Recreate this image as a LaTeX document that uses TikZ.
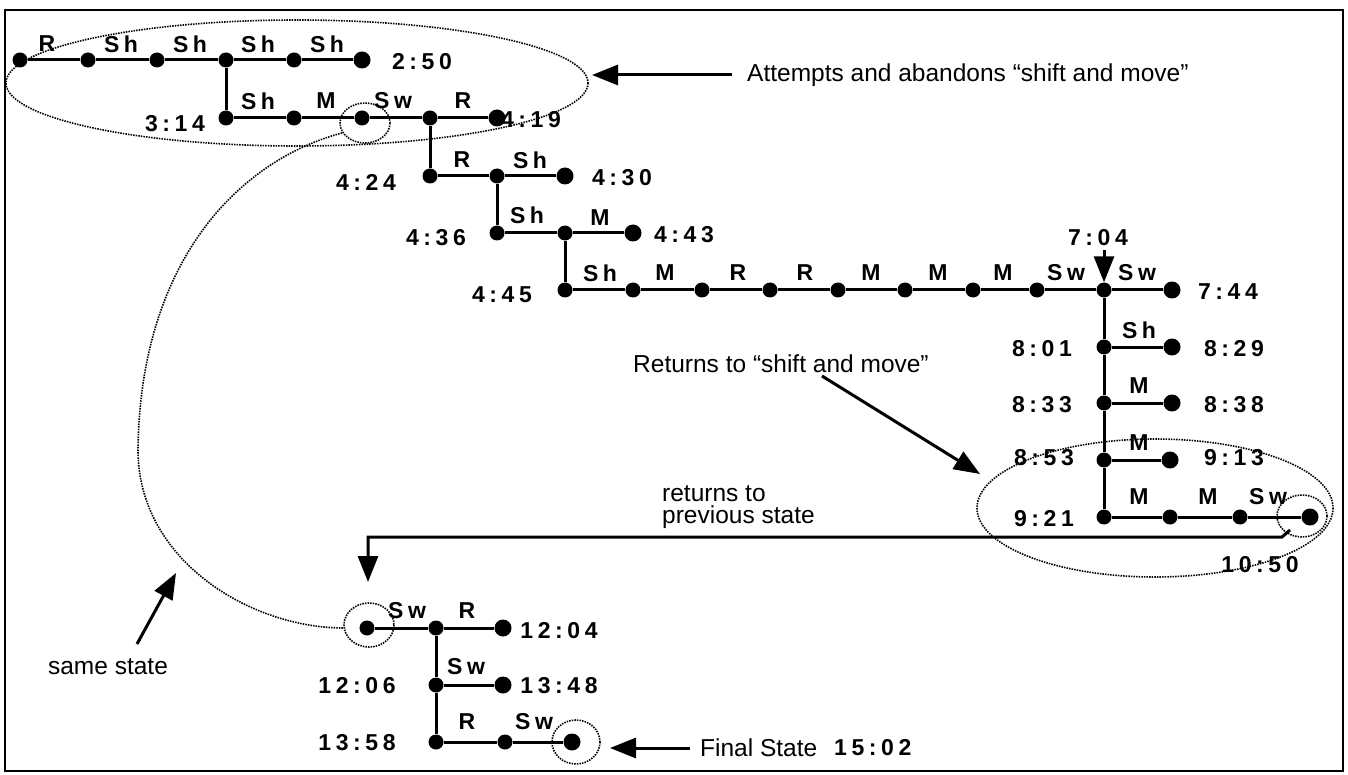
\documentclass[tikz,border=0pt]{standalone}
\usepackage{fontspec}
\setmainfont{Liberation Sans}
\newfontfamily\labfont[LetterSpace=20]{Liberation Sans}
\usetikzlibrary{arrows.meta}
\begin{document}
\begin{tikzpicture}[x=1pt,y=-1pt,
 dot/.style={circle,fill=black,inner sep=0pt,minimum size=15pt},
 enddot/.style={dot,minimum size=17pt},
 lab/.style={font=\labfont\bfseries\fontsize{23}{23}\selectfont,inner sep=0pt},
 note/.style={font=\fontsize{24.5}{26}\selectfont,inner sep=0pt},
 edge/.style={line width=3pt},
 ring/.style={dash pattern=on 1.5pt off 1.1pt,line width=1.6pt},
 bigarrow/.style={line width=3pt,-{Triangle[length=26pt,width=20pt]}}
]
\useasboundingbox (0,0) rectangle (1348,775);
\draw[line width=2.4pt] (5,10) rectangle (1343,771);

% row 1
\node[dot] (a1) at (20,60) {};
\node[dot] (a2) at (88,60) {};
\node[dot] (a3) at (157,60) {};
\node[dot] (a4) at (226,60) {};
\node[dot] (a5) at (294,60) {};
\node[enddot] (a6) at (362,60) {};
\draw[edge] (a1) -- (a2) -- (a3) -- (a4) -- (a5) -- (a6);
\node[lab] (la1) at (47,44) {R};
\node[lab] (la2) at (121,44) {Sh};
\node[lab] (la3) at (190,44) {Sh};
\node[lab] (la4) at (258,44) {Sh};
\node[lab] (la5) at (327,44) {Sh};
\node[lab] (t250) at (422,62) {2:50};

% row 2
\node[dot] (b1) at (226,118) {};
\node[dot] (b2) at (294,118) {};
\node[dot] (b3) at (362,118) {};
\node[dot] (b4) at (430,118) {};
\node[enddot] (b5) at (497,118) {};
\draw[edge] (a4) -- (b1);
\draw[edge] (b1) -- (b2) -- (b3) -- (b4) -- (b5);
\node[lab] (lb1) at (258,101) {Sh};
\node[lab] (lb2) at (326,101) {M};
\node[lab] (lb3) at (393,101) {Sw};
\node[lab] (lb4) at (463,101) {R};
\node[lab] (t314) at (175,124) {3:14};
\node[lab] (t419) at (531,120) {4:19};

% row 3
\node[dot] (c1) at (430,176) {};
\node[dot] (c2) at (497,176) {};
\node[enddot] (c3) at (565,176) {};
\draw[edge] (b4) -- (c1);
\draw[edge] (c1) -- (c2) -- (c3);
\node[lab] (lc1) at (462,160) {R};
\node[lab] (lc2) at (530,160) {Sh};
\node[lab] (t424) at (366,182) {4:24};
\node[lab] (t430) at (622,178) {4:30};

% row 4
\node[dot] (d1) at (497,233) {};
\node[dot] (d2) at (565,233) {};
\node[enddot] (d3) at (633,233) {};
\draw[edge] (c2) -- (d1);
\draw[edge] (d1) -- (d2) -- (d3);
\node[lab] (ld1) at (527,215) {Sh};
\node[lab] (ld2) at (600,218) {M};
\node[lab] (t436) at (436,238) {4:36};
\node[lab] (t443) at (684,235) {4:43};

% row 5
\node[dot] (e1) at (565,290) {};
\node[dot] (e2) at (633,290) {};
\node[dot] (e3) at (702,290) {};
\node[dot] (e4) at (770,290) {};
\node[dot] (e5) at (838,290) {};
\node[dot] (e6) at (905,290) {};
\node[dot] (e7) at (973,290) {};
\node[dot] (e8) at (1037,290) {};
\node[dot] (e9) at (1104,290) {};
\node[enddot] (e10) at (1172,290) {};
\draw[edge] (d2) -- (e1);
\draw[edge] (e1) -- (e2) -- (e3) -- (e4) -- (e5) -- (e6) -- (e7) -- (e8) -- (e9) -- (e10);
\node[lab] (le1) at (600,273) {Sh};
\node[lab] (le2) at (665,273) {M};
\node[lab] (le3) at (738,273) {R};
\node[lab] (le4) at (805,273) {R};
\node[lab] (le5) at (871,273) {M};
\node[lab] (le6) at (938,273) {M};
\node[lab] (le7) at (1003,273) {M};
\node[lab] (le8) at (1066,273) {Sw};
\node[lab] (le9) at (1137,273) {Sw};
\node[lab] (t445) at (502,295) {4:45};
\node[lab] (t744) at (1228,292) {7:44};
\node[lab] (t704) at (1098,238) {7:04};
\coordinate (a704) at (1104,250);
\draw[bigarrow] (a704) -- (e9.north);

% vertical column
\node[dot] (f1) at (1104,347) {};
\node[enddot] (f2) at (1172,347) {};
\node[dot] (g1) at (1104,403) {};
\node[enddot] (g2) at (1172,403) {};
\node[dot] (h1) at (1104,460) {};
\node[enddot] (h2) at (1170,460) {};
\node[dot] (i1) at (1104,517) {};
\node[dot] (i2) at (1170,517) {};
\node[dot] (i3) at (1240,517) {};
\node[enddot] (i4) at (1310,517) {};
\draw[edge] (e9) -- (f1) -- (g1) -- (h1) -- (i1);
\draw[edge] (f1) -- (f2);
\draw[edge] (g1) -- (g2);
\draw[edge] (h1) -- (h2);
\draw[edge] (i1) -- (i2) -- (i3) -- (i4);
\node[lab] (lf) at (1139,330) {Sh};
\node[lab] (lg) at (1139,386) {M};
\node[lab] (lh) at (1139,443) {M};
\node[lab] (li1) at (1139,497) {M};
\node[lab] (li2) at (1208,497) {M};
\node[lab] (li3) at (1268,497) {Sw};
\node[lab] (t801) at (1042,349) {8:01};
\node[lab] (t829) at (1234,349) {8:29};
\node[lab] (t833) at (1042,405) {8:33};
\node[lab] (t838) at (1234,405) {8:38};
\node[lab] (t853) at (1044,458) {8:53};
\node[lab] (t913) at (1234,458) {9:13};
\node[lab] (t921) at (1044,519) {9:21};
\node[lab] (t1050) at (1260,565) {10:50};

% bottom cluster
\node[dot] (k1) at (367,628) {};
\node[dot] (k2) at (436,628) {};
\node[enddot] (k3) at (503,628) {};
\node[dot] (l1) at (436,685) {};
\node[enddot] (l2) at (503,685) {};
\node[dot] (m1) at (436,742) {};
\node[dot] (m2) at (505,742) {};
\node[enddot] (m3) at (572,742) {};
\draw[edge] (k1) -- (k2) -- (k3);
\draw[edge] (k2) -- (l1) -- (m1);
\draw[edge] (l1) -- (l2);
\draw[edge] (m1) -- (m2) -- (m3);
\node[lab] (lk1) at (407,611) {Sw};
\node[lab] (lk2) at (467,611) {R};
\node[lab] (ll) at (466,667) {Sw};
\node[lab] (lm1) at (467,722) {R};
\node[lab] (lm2) at (534,722) {Sw};
\node[lab] (t1204) at (559,631) {12:04};
\node[lab] (t1348) at (559,686) {13:48};
\node[lab] (t1206) at (357,686) {12:06};
\node[lab] (t1358) at (357,743) {13:58};

% dotted rings
\draw[ring] (297,83) ellipse [x radius=291, y radius=63];
\draw[ring] (365,123) ellipse [x radius=25, y radius=20];
\draw[ring] (1155,508) ellipse [x radius=178, y radius=69];
\draw[ring] (1302,516) ellipse [x radius=25, y radius=21];
\draw[ring] (369,625) ellipse [x radius=25, y radius=22];
\draw[ring] (576,742) ellipse [x radius=24, y radius=22];
\coordinate (s1) at (342,133);
\coordinate (s2) at (138,450);
\coordinate (s3) at (344,628);
\draw[ring] (s1) .. controls (240,160) and (140,260) .. (s2)
            .. controls (138,560) and (250,628) .. (s3);

% annotations
\node[note,anchor=west] (n1) at (747,75) {Attempts and abandons ``shift and move''};
\coordinate (n1t) at (732,75);
\coordinate (n1h) at (592,75);
\draw[bigarrow] (n1t) -- (n1h);

\node[note,anchor=west] (n2) at (633,364) {Returns to ``shift and move''};
\coordinate (n2t) at (822,376);
\coordinate (n2h) at (980,474);
\draw[bigarrow] (n2t) -- (n2h);

\node[note,anchor=west,align=left,font=\fontsize{24.5}{22}\selectfont] (n3) at (662,507) {returns to\\previous state};
\coordinate (r0) at (1290,530);
\coordinate (r1) at (1282,537);
\coordinate (r2) at (368,582);
\draw[line width=3pt,-{Triangle[length=26pt,width=20pt]}] (r0) -- (r1) -| (r2);

\node[note] (n4) at (108,667) {same state};
\coordinate (n4t) at (137,644);
\coordinate (n4h) at (176,573);
\draw[bigarrow] (n4t) -- (n4h);

\node[note,anchor=west] (n5) at (700,748) {Final State};
\node[lab,anchor=west] (t1502) at (834,748) {15:02};
\coordinate (n5t) at (690,748);
\coordinate (n5h) at (610,748);
\draw[bigarrow] (n5t) -- (n5h);
\end{tikzpicture}
\end{document}
